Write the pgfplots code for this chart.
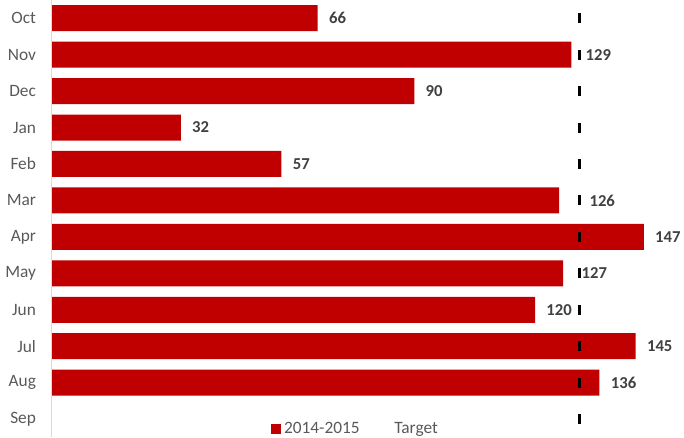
\documentclass[border=0pt]{standalone}
\usepackage{fontspec}
\setmainfont{Carlito}
\usepackage{pgfplots}
\pgfplotsset{compat=1.18}
\definecolor{barred}{HTML}{C00000}
\definecolor{lbl}{HTML}{404040}
\definecolor{ticktext}{HTML}{595959}
\definecolor{axisline}{HTML}{D9D9D9}

\begin{document}
\begin{tikzpicture}
\begin{axis}[
scale only axis,
width=474pt,
height=328pt,
xmin=0, xmax=157,
ymin=-0.5, ymax=11.5,
y dir=reverse,
ytick={0,...,11},
yticklabels={Oct,Nov,Dec,Jan,Feb,Mar,Apr,May,Jun,Jul,Aug,Sep},
xtick=\empty,
major tick length=0pt,
axis line style={draw=none},
/pgf/number format/assume math mode=true,
yticklabel style={font=\fontsize{13}{15}\selectfont, text=ticktext, xshift=-8.5pt},
legend style={at={(0.481,0)}, anchor=south, yshift=-3pt, draw=none, fill=none,
  legend columns=2, font=\fontsize{13}{15}\selectfont, text=ticktext,
  /tikz/every even column/.append style={column sep=22pt}},
clip=false,
]

% 2014-2015 actuals (dx: extra label offset in pt)
\addplot[xbar, bar width=19.5pt, fill=barred, draw=none,
  visualization depends on={\thisrow{dx} \as \dx},
  nodes near coords,
  nodes near coords style={anchor=west, xshift={5pt+\dx pt}, font=\bfseries\fontsize{12.5}{14}\selectfont, text=lbl},
  legend image code/.code={\fill[barred] (0pt,-3.75pt) rectangle (7.5pt,3.75pt);}
] table[x=v, y=m] {
v   m  dx
66  0  0
129 1  2.25
90  2  0
32  3  0
57  4  0
126 5  14.25
147 6  0
127 7  5.25
120 8  0
145 9  0
136 10 0
};

% target
\addplot[only marks, mark=|, mark size=3.75pt, black, line width=2.2pt,
  legend image code/.code={}
] coordinates {
(131,0) (131,1) (131,2) (131,3) (131,4) (131,5) (131,6) (131,7) (131,8) (131,9) (131,10) (131,11)
};

\legend{2014-2015, Target}

\draw[axisline, line width=0.75pt] (rel axis cs:0,0) -- (rel axis cs:0,1);
\end{axis}
\pgfresetboundingbox
\path ([xshift=-39pt]current axis.south west) rectangle (current axis.north east);
\end{tikzpicture}
\end{document}
